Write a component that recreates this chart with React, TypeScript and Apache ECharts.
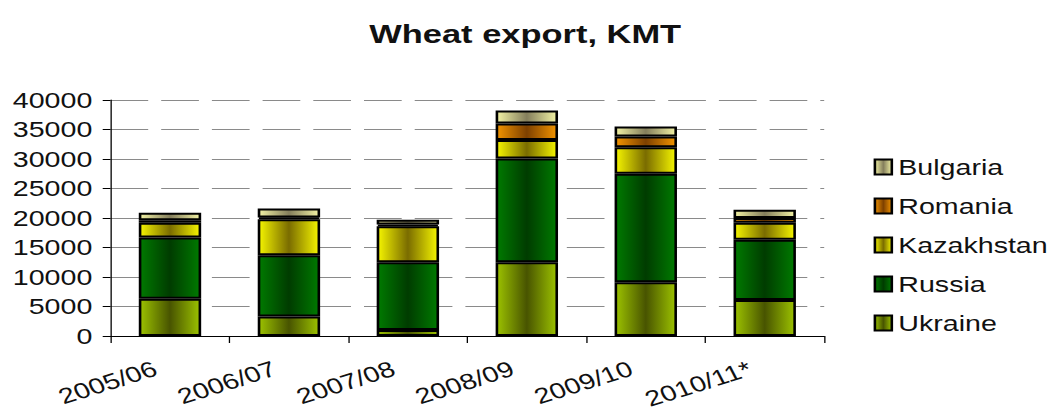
import React, { useEffect, useRef } from "react";
import * as echarts from "echarts";

const categories = ["2005/06", "2006/07", "2007/08", "2008/09", "2009/10", "2010/11*"];
const ukraine = [6300, 3300, 1000, 12500, 9100, 6100];
const russia = [10400, 10400, 11500, 17600, 18400, 10200];
const kazakhstan = [2500, 6100, 6100, 3100, 4500, 2900];
const romania = [400, 300, 300, 2800, 1800, 800];
const bulgaria = [1300, 1500, 800, 2200, 1700, 1400];
const legendOrder = ["Bulgaria", "Romania", "Kazakhstan", "Russia", "Ukraine"];

const SX = 1.3;
const W = 808;
const H = 410;

function grad(light: string, dark: string) {
  return new echarts.graphic.LinearGradient(0, 0, 1, 0, [
    { offset: 0, color: light },
    { offset: 0.5, color: dark },
    { offset: 1, color: light },
  ]);
}

export default function App() {
  const ref = useRef<HTMLDivElement>(null);
  useEffect(() => {
    document.body.style.margin = "0";
    const chart = echarts.init(ref.current!, null, { renderer: "svg", width: W, height: H });
    const font = "'Liberation Sans', Arial, sans-serif";
    const mk = (name: string, data: number[], light: string, dark: string) => ({
      name,
      type: "bar",
      stack: "total",
      data,
      barWidth: 48,
      itemStyle: { color: grad(light, dark), borderColor: "#000", borderWidth: 2 },
    });
    chart.setOption({
      animation: false,
      title: {
        text: "Wheat export, KMT",
        left: "center",
        top: 15,
        textStyle: { fontFamily: font, fontSize: 26.5, fontWeight: "bold", color: "#111" },
      },
      legend: {
        orient: "vertical",
        left: 667,
        top: 151,
        data: legendOrder,
        itemWidth: 13,
        itemHeight: 15,
        itemGap: 17,
        icon: "rect",
        textStyle: { fontFamily: font, fontSize: 22, color: "#111" },
      },
      grid: { left: 85, right: W - 634, top: 100, bottom: H - 336, outerBoundsMode: "none", containLabel: false },
      xAxis: {
        type: "category",
        data: categories,
        axisLine: { lineStyle: { color: "#000", width: 1 } },
        axisTick: { show: true, length: 7, lineStyle: { color: "#000" } },
        axisLabel: {
          rotate: 22,
          margin: 27,
          padding: [0, 12, 0, 0],
          fontFamily: font,
          fontSize: 22,
          color: "#111",
          interval: 0,
        },
      },
      yAxis: {
        type: "value",
        min: 0,
        max: 40000,
        interval: 5000,
        axisLine: { show: true, lineStyle: { color: "#000", width: 1 } },
        axisTick: { show: true, length: 6, lineStyle: { color: "#000" } },
        axisLabel: {
          margin: 14,
          fontFamily: font,
          fontSize: 22,
          color: "#111",
          formatter: (v: number) => String(v),
        },
        splitLine: { lineStyle: { color: "#8a8a8a", width: 1, type: [29, 10] } },
      },
      series: [
        mk("Ukraine", ukraine, "#9cc200", "#485400"),
        mk("Russia", russia, "#007a00", "#003c00"),
        mk("Kazakhstan", kazakhstan, "#f5f500", "#7a6c00"),
        mk("Romania", romania, "#f29400", "#7d4000"),
        mk("Bulgaria", bulgaria, "#f2f2a4", "#847e5c"),
      ],
    });
    return () => chart.dispose();
  }, []);
  return (
    <div style={{ width: 1050, height: H, overflow: "hidden", position: "relative" }}>
      <div
        ref={ref}
        style={{ width: W, height: H, transform: `scaleX(${SX})`, transformOrigin: "0 0" }}
      />
    </div>
  );
}
